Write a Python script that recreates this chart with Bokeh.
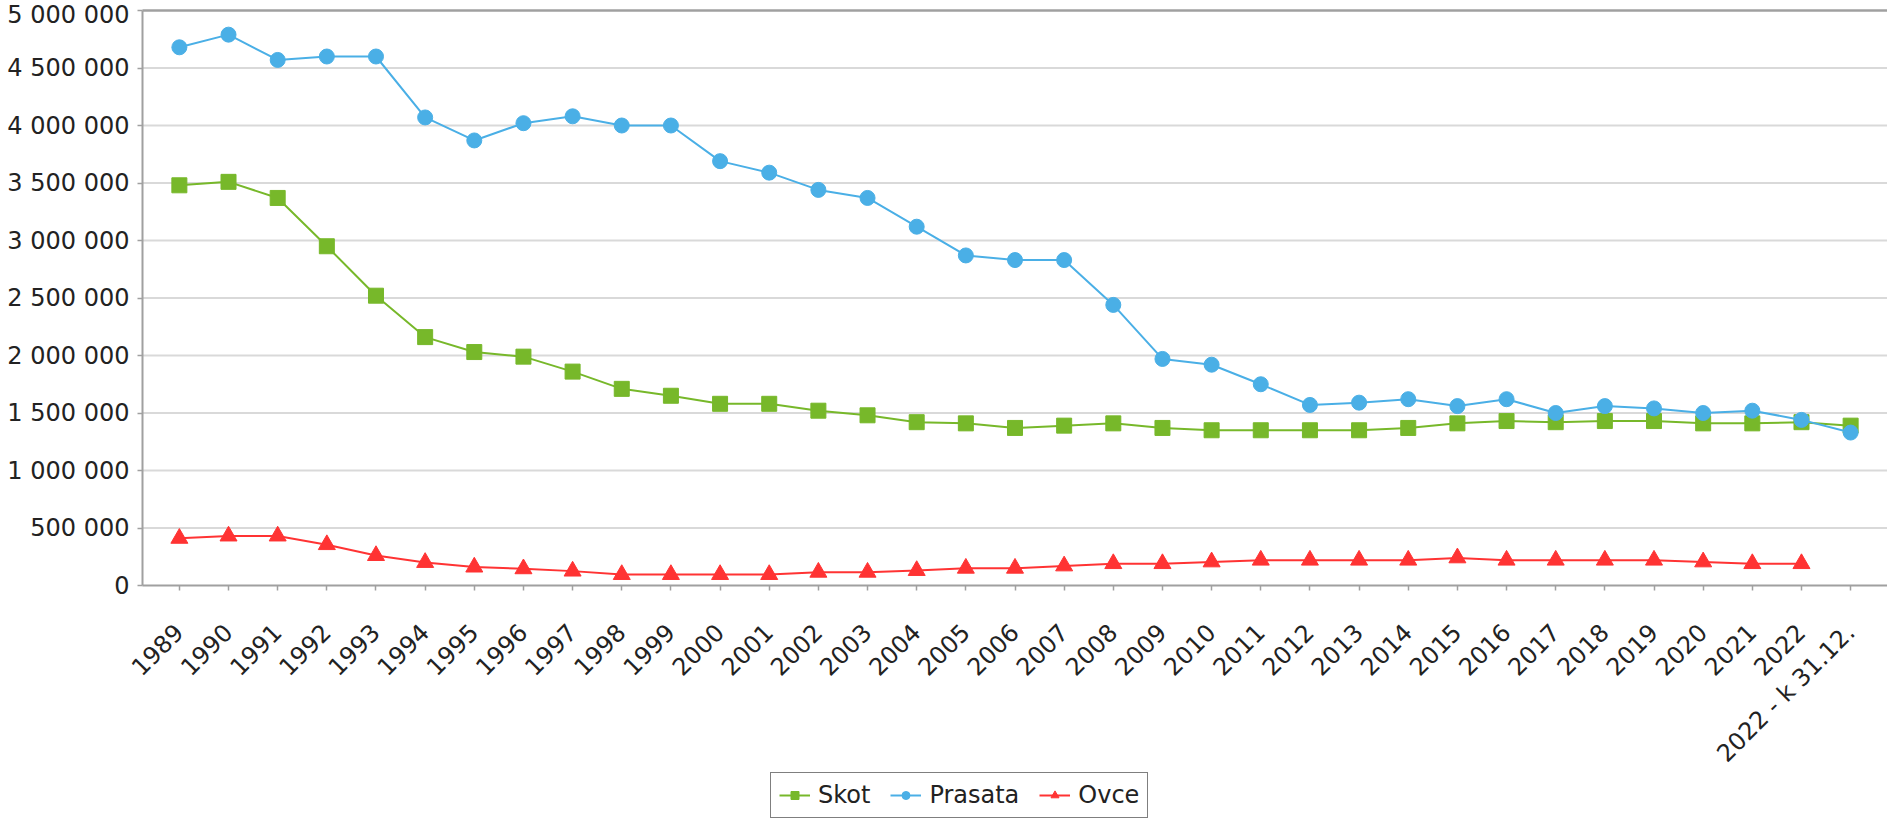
import math
from bokeh.plotting import figure
from bokeh.models import (Range1d, FixedTicker, CustomJSTickFormatter, Legend,
                          LegendItem)
from bokeh.embed import file_html
from bokeh.resources import INLINE

years = ["1989", "1990", "1991", "1992", "1993", "1994", "1995", "1996", "1997",
         "1998", "1999", "2000", "2001", "2002", "2003", "2004", "2005", "2006",
         "2007", "2008", "2009", "2010", "2011", "2012", "2013", "2014", "2015",
         "2016", "2017", "2018", "2019", "2020", "2021", "2022", "2022 - k 31.12."]

skot = [3480000, 3510000, 3370000, 2950000, 2520000, 2160000, 2030000, 1990000,
        1860000, 1710000, 1650000, 1580000, 1580000, 1520000, 1480000, 1420000,
        1410000, 1370000, 1390000, 1410000, 1370000, 1350000, 1350000, 1350000,
        1350000, 1370000, 1410000, 1430000, 1420000, 1430000, 1430000, 1410000,
        1410000, 1420000, 1390000]

prasata = [4680000, 4790000, 4570000, 4600000, 4600000, 4070000, 3870000, 4020000,
           4080000, 4000000, 4000000, 3690000, 3590000, 3440000, 3370000, 3120000,
           2870000, 2830000, 2830000, 2440000, 1970000, 1920000, 1750000, 1570000,
           1590000, 1620000, 1560000, 1620000, 1500000, 1560000, 1540000, 1500000,
           1520000, 1440000, 1330000]

ovce = [410000, 430000, 430000, 355000, 260000, 200000, 160000, 145000, 125000,
        95000, 95000, 95000, 95000, 115000, 115000, 130000, 150000, 150000,
        170000, 190000, 190000, 205000, 220000, 220000, 220000, 220000, 240000,
        220000, 220000, 220000, 220000, 205000, 190000, 190000]

y_ticks = [0, 500000, 1000000, 1500000, 2000000, 2500000, 3000000, 3500000,
           4000000, 4500000, 5000000]

GREEN = "#77b82a"
BLUE = "#4aafe6"
RED = "#ff3333"
FONT = "DejaVu Sans"

# layout: plot area 1745 x 575 px, 142 px from the left edge, 10 px from the top
PLOT_W, PLOT_H, LEFT, TOP, BELOW = 1745, 575, 142, 10, 233
Y_MAX = 5000000
Y_MIN = -Y_MAX * BELOW / PLOT_H
Y_TOP = Y_MAX + Y_MAX * TOP / PLOT_H
X_LO = -0.75
X_HI = len(years) - 0.25
PX_PER_UNIT = PLOT_W / (X_HI - X_LO)
X_START = X_LO - LEFT / PX_PER_UNIT

p = figure(frame_width=PLOT_W + LEFT, frame_height=PLOT_H + BELOW + TOP,
           output_backend="svg", toolbar_location=None,
           x_range=Range1d(X_START, X_HI), y_range=Range1d(Y_MIN, Y_TOP),
           min_border_left=0, min_border_top=0, min_border_right=0,
           min_border_bottom=0)
p.background_fill_color = "white"
p.border_fill_color = "white"
p.outline_line_color = None
p.xgrid.visible = False
p.ygrid.visible = False

# horizontal grid lines, limited to the plot area
grid_y = y_ticks[1:-1]
p.segment(x0=[X_LO] * len(grid_y), x1=[X_HI] * len(grid_y), y0=grid_y, y1=grid_y,
          line_color="#d9d9d9", line_width=2)
p.segment(x0=[X_LO], x1=[X_HI], y0=[Y_MAX], y1=[Y_MAX],
          line_color="#a0a0a0", line_width=2.5)

xs = list(range(len(years)))

l1 = p.line(xs[:len(skot)], skot, line_color=GREEN, line_width=2)
s1 = p.scatter(xs[:len(skot)], skot, marker="square", size=15, fill_color=GREEN,
               line_color=GREEN)
l2 = p.line(xs[:len(prasata)], prasata, line_color=BLUE, line_width=2)
s2 = p.scatter(xs[:len(prasata)], prasata, marker="circle", size=15, fill_color=BLUE,
               line_color=BLUE)
l3 = p.line(xs[:len(ovce)], ovce, line_color=RED, line_width=2)
s3 = p.scatter(xs[:len(ovce)], ovce, marker="triangle", size=17, fill_color=RED,
               line_color=RED)

p.yaxis.ticker = FixedTicker(ticks=y_ticks)
p.yaxis.bounds = (0, Y_MAX)
p.yaxis.fixed_location = X_LO
p.yaxis.formatter = CustomJSTickFormatter(
    code="return Math.round(tick).toString().replace(/\\B(?=(\\d{3})+(?!\\d))/g, ' ');")
p.xaxis.ticker = FixedTicker(ticks=xs)
p.xaxis.bounds = (X_LO, X_HI)
p.xaxis.fixed_location = 0
p.xaxis.major_label_overrides = {i: y for i, y in enumerate(years)}
p.xaxis.major_label_orientation = math.pi / 4

for ax in (p.xaxis[0], p.yaxis[0]):
    ax.axis_line_color = "#a0a0a0"
    ax.axis_line_width = 2
    ax.major_tick_line_color = "#a0a0a0"
    ax.major_tick_line_width = 1.5
    ax.major_tick_out = 5
    ax.major_tick_in = 0
    ax.minor_tick_line_color = None
    ax.major_label_text_font = FONT
    ax.major_label_text_font_size = "24px"
    ax.major_label_text_color = "#222222"
p.yaxis.major_label_standoff = 8
p.xaxis.major_label_standoff = 38

legend = Legend(items=[LegendItem(label="Skot", renderers=[l1, s1]),
                       LegendItem(label="Prasata", renderers=[l2, s2]),
                       LegendItem(label="Ovce", renderers=[l3, s3])],
                orientation="horizontal", location=(LEFT + 628, 0))
legend.border_line_color = "black"
legend.border_line_width = 1.5
legend.label_text_font = FONT
legend.label_text_font_size = "24px"
legend.label_text_color = "#222222"
legend.label_height = 24
legend.glyph_width = 31
legend.glyph_height = 20
legend.label_standoff = 8
legend.spacing = 20
legend.padding = 8
legend.margin = 0
p.add_layout(legend, "center")

open("out.html", "w").write(file_html(p, INLINE))
